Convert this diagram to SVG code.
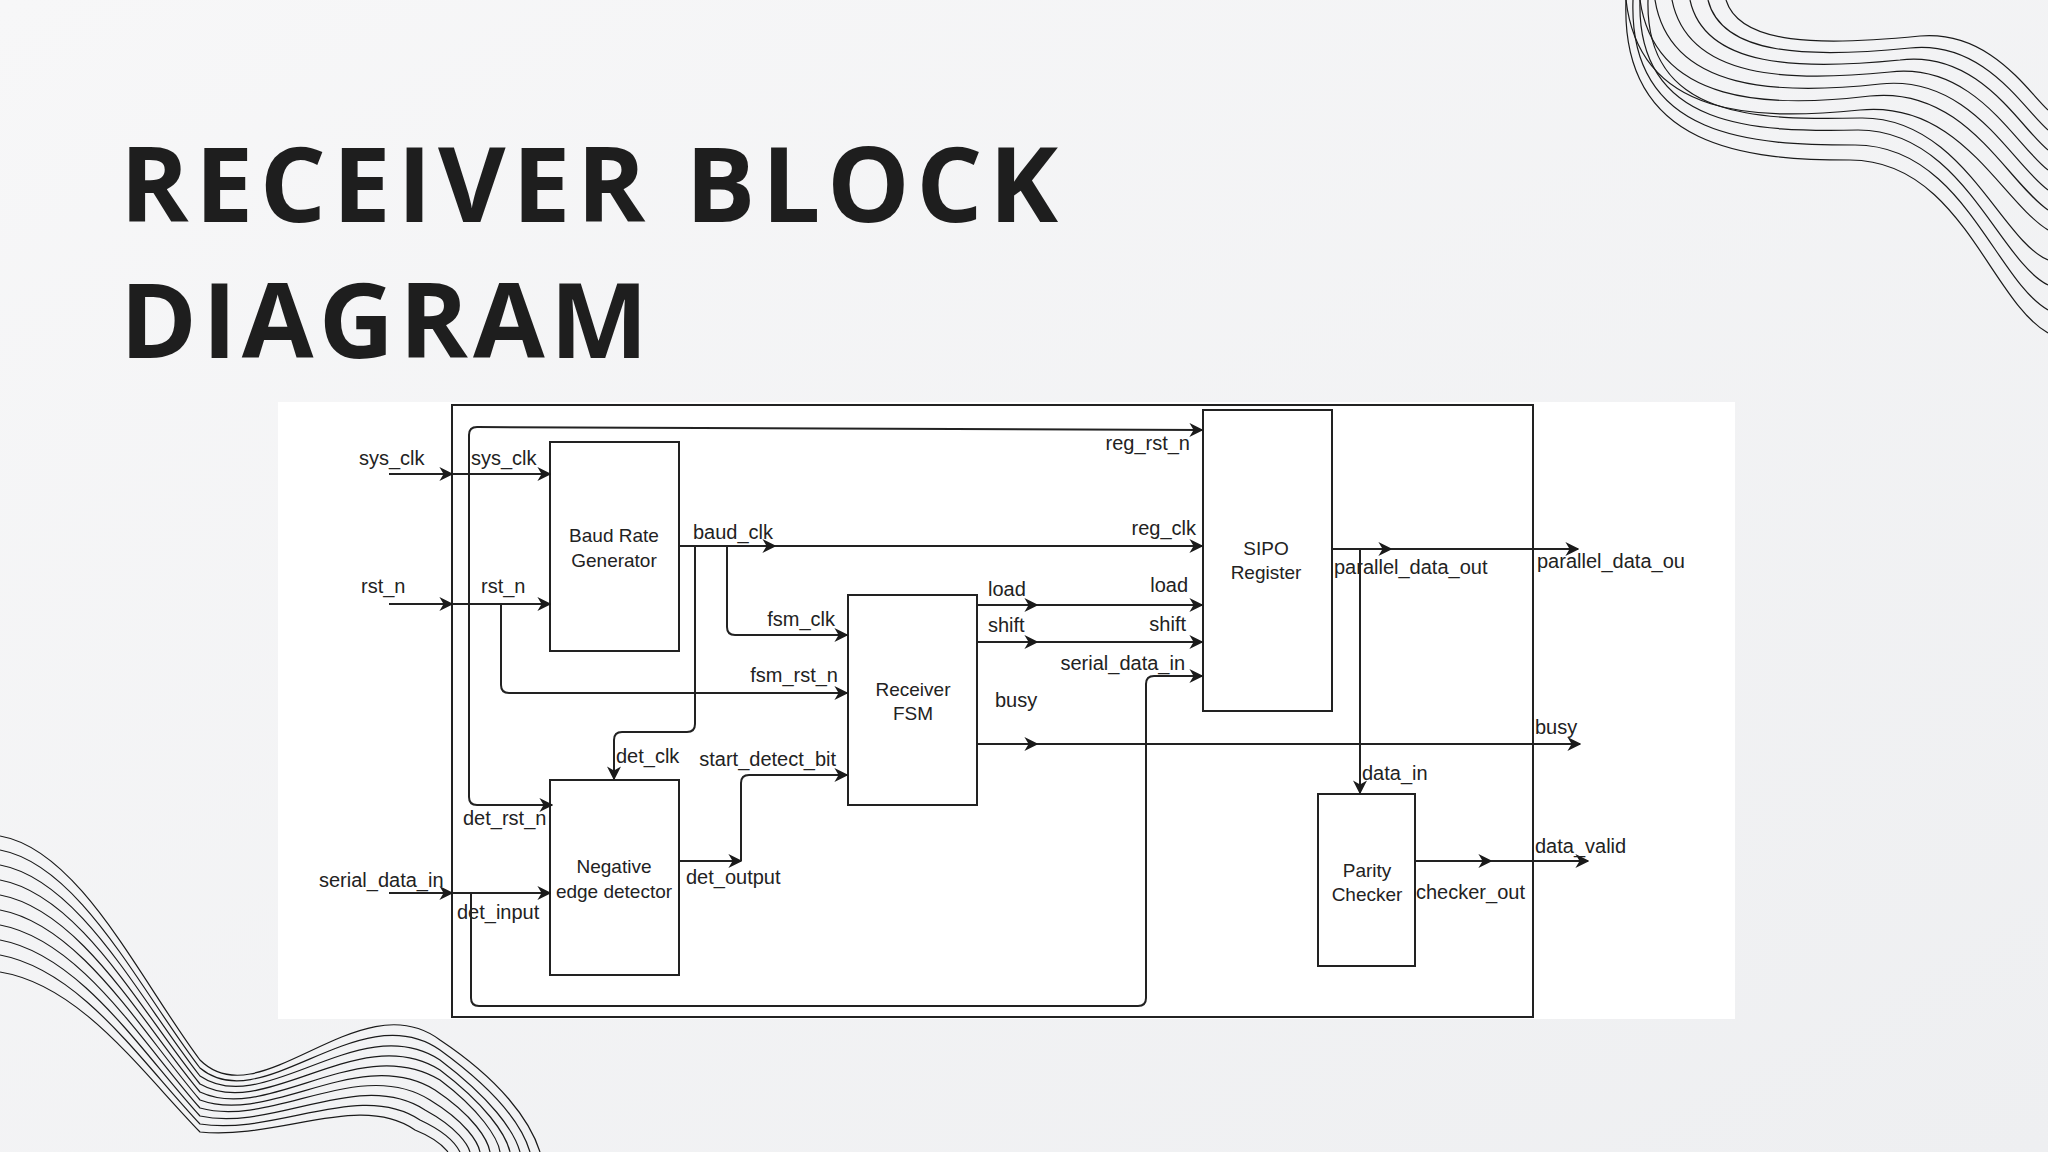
<svg xmlns="http://www.w3.org/2000/svg" width="2048" height="1152" viewBox="0 0 2048 1152">
<defs>
<linearGradient id="bg" x1="0" y1="0" x2="1" y2="1"><stop offset="0" stop-color="#f7f7f8"/><stop offset="1" stop-color="#eeeff1"/></linearGradient>
<marker id="ar" markerUnits="userSpaceOnUse" markerWidth="14" markerHeight="14" viewBox="0 0 10 10" refX="9" refY="5" orient="auto"><path d="M0,0 L10,5 L0,10 L3,5 z" fill="#1a1a1a"/></marker>
</defs>
<style>
.blk{fill:#fff;stroke:#222;stroke-width:2}
.c{fill:none;stroke:#222;stroke-width:2;marker-end:url(#ar)}
.lb{font-family:"Liberation Sans",Arial,sans-serif;font-size:20px;fill:#222}
.bt{font-family:"Liberation Sans",Arial,sans-serif;font-size:19px;fill:#222;text-anchor:middle}
.w{fill:none;stroke:#1a1a1a;stroke-width:1.2}
.t{font-family:"Open Sans","Noto Sans",sans-serif;font-weight:700;font-size:104px;fill:#1e1e1e}
</style>
<rect width="2048" height="1152" fill="url(#bg)"/>
<g id="waves-tr">
<path class="w" d="M1626,0 C1640,120 1760,120 1860,110 C1960,100 2000,200 2048,230"/>
<path class="w" d="M1640,0 C1655,105 1770,108 1870,96 C1965,86 2005,180 2048,210"/>
<path class="w" d="M1655,0 C1670,92 1780,95 1880,84 C1970,74 2010,162 2048,190"/>
<path class="w" d="M1672,0 C1688,80 1790,82 1890,72 C1975,62 2015,145 2048,170"/>
<path class="w" d="M1690,0 C1705,68 1800,70 1900,60 C1980,50 2020,128 2048,150"/>
<path class="w" d="M1708,0 C1722,56 1810,58 1910,48 C1985,40 2024,110 2048,130"/>
<path class="w" d="M1726,0 C1740,45 1820,46 1920,36 C1990,30 2028,92 2048,110"/>
<path class="w" d="M1626,0 C1620,150 1750,160 1850,160 C1960,160 1990,300 2048,333"/>
<path class="w" d="M1633,0 C1628,140 1755,145 1855,145 C1962,145 1995,280 2048,310"/>
<path class="w" d="M1640,0 C1636,130 1758,132 1858,130 C1962,130 1998,260 2048,285"/>
<path class="w" d="M1648,0 C1645,120 1760,120 1860,118 C1962,116 2000,240 2048,260"/>
</g>
<g id="waves-bl">
<path class="w" d="M0,836 C80,850 140,980 200,1060 C260,1120 360,980 440,1040 C500,1080 530,1120 540,1152"/>
<path class="w" d="M0,850 C80,865 140,990 200,1068 C262,1120 360,994 440,1050 C495,1090 522,1125 530,1152"/>
<path class="w" d="M0,865 C80,880 140,1000 200,1076 C264,1120 360,1008 440,1060 C490,1098 514,1130 520,1152"/>
<path class="w" d="M0,880 C80,895 140,1010 200,1084 C266,1122 360,1020 440,1070 C485,1104 506,1134 510,1152"/>
<path class="w" d="M0,895 C80,910 140,1020 200,1092 C268,1124 360,1032 440,1080 C480,1110 498,1138 500,1152"/>
<path class="w" d="M0,910 C80,925 140,1030 200,1100 C270,1126 360,1044 435,1090 C474,1116 488,1140 490,1152"/>
<path class="w" d="M0,925 C80,940 140,1040 200,1108 C272,1128 360,1056 430,1100 C466,1122 478,1142 480,1152"/>
<path class="w" d="M0,940 C80,955 140,1050 200,1116 C274,1132 360,1068 425,1110 C458,1128 468,1145 470,1152"/>
<path class="w" d="M0,955 C80,970 140,1060 200,1124 C276,1136 360,1080 420,1120 C450,1134 458,1148 460,1152"/>
<path class="w" d="M0,972 C80,985 140,1070 200,1132 C278,1140 360,1092 415,1130 C440,1140 446,1150 448,1152"/>
</g>
<text class="t" x="120" y="222" textLength="938" lengthAdjust="spacing">RECEIVER BLOCK</text>
<text class="t" x="120" y="358" textLength="528" lengthAdjust="spacing">DIAGRAM</text>
<rect x="278" y="402" width="1457" height="617" fill="#fff"/>
<rect x="452" y="405" width="1081" height="612" fill="none" stroke="#222" stroke-width="2"/>
<g id="baud"><rect class="blk" x="550" y="442" width="129" height="209"/><text class="bt" x="614" y="542">Baud Rate</text><text class="bt" x="614" y="567">Generator</text></g>
<g id="fsm"><rect class="blk" x="848" y="595" width="129" height="210"/><text class="bt" x="913" y="696">Receiver</text><text class="bt" x="913" y="720">FSM</text></g>
<g id="neg"><rect class="blk" x="550" y="780" width="129" height="195"/><text class="bt" x="614" y="873">Negative</text><text class="bt" x="614" y="898">edge detector</text></g>
<g id="sipo"><rect class="blk" x="1203" y="410" width="129" height="301"/><text class="bt" x="1266" y="555">SIPO</text><text class="bt" x="1266" y="579">Register</text></g>
<g id="parity"><rect class="blk" x="1318" y="794" width="97" height="172"/><text class="bt" x="1367" y="877">Parity</text><text class="bt" x="1367" y="901">Checker</text></g>
<g id="connectors">
<path class="c" d="M389,474 L452,474"/><path class="c" d="M452,474 L550,474"/>
<path class="c" d="M389,604 L452,604"/><path class="c" d="M452,604 L550,604"/>
<path class="c" d="M389,893 L452,893"/><path class="c" d="M452,893 L550,893"/>
<path class="c" d="M679,546 L775,546"/><path class="c" d="M775,546 L1202,546"/>
<path class="c" d="M727,546 L727,627 Q727,635 735,635 L847,635"/>
<path class="c" d="M695,546 L695,724 Q695,732 687,732 L622,732 Q614,732 614,740 L614,779"/>
<path class="c" d="M501,604 L501,685 Q501,693 509,693 L847,693"/>
<path class="c" d="M469,604 L469,435 Q469,427 477,427 L1202,430"/>
<path class="c" d="M469,604 L469,797 Q469,805 477,805 L552,805"/>
<path class="c" d="M471,893 L471,998 Q471,1006 479,1006 L1138,1006 Q1146,1006 1146,998 L1146,684 Q1146,676 1154,676 L1202,676"/>
<path class="c" d="M679,861 L741,861"/><path class="c" d="M741,861 L741,783 Q741,775 749,775 L847,775"/>
<path class="c" d="M977,605 L1037,605"/><path class="c" d="M1037,605 L1202,605"/>
<path class="c" d="M977,642 L1037,642"/><path class="c" d="M1037,642 L1202,642"/>
<path class="c" d="M977,744 L1037,744"/><path class="c" d="M1037,744 L1580,744"/>
<path class="c" d="M1332,549 L1391,549"/><path class="c" d="M1391,549 L1578,549"/>
<path class="c" d="M1360,549 L1360,793"/>
<path class="c" d="M1415,861 L1491,861"/><path class="c" d="M1491,861 L1588,861"/>
</g>
<g id="labels">
<text class="lb" x="359" y="465">sys_clk</text>
<text class="lb" x="471" y="465">sys_clk</text>
<text class="lb" x="361" y="593">rst_n</text>
<text class="lb" x="481" y="593">rst_n</text>
<text class="lb" x="693" y="539">baud_clk</text>
<text class="lb" x="835" y="626" text-anchor="end">fsm_clk</text>
<text class="lb" x="838" y="682" text-anchor="end">fsm_rst_n</text>
<text class="lb" x="616" y="763">det_clk</text>
<text class="lb" x="836" y="766" text-anchor="end">start_detect_bit</text>
<text class="lb" x="463" y="825">det_rst_n</text>
<text class="lb" x="319" y="887">serial_data_in</text>
<text class="lb" x="457" y="919">det_input</text>
<text class="lb" x="686" y="884">det_output</text>
<text class="lb" x="988" y="596">load</text>
<text class="lb" x="988" y="632">shift</text>
<text class="lb" x="995" y="707">busy</text>
<text class="lb" x="1190" y="450" text-anchor="end">reg_rst_n</text>
<text class="lb" x="1196" y="535" text-anchor="end">reg_clk</text>
<text class="lb" x="1188" y="592" text-anchor="end">load</text>
<text class="lb" x="1186" y="631" text-anchor="end">shift</text>
<text class="lb" x="1185" y="670" text-anchor="end">serial_data_in</text>
<text class="lb" x="1334" y="574">parallel_data_out</text>
<text class="lb" x="1537" y="568">parallel_data_ou</text>
<text class="lb" x="1535" y="734">busy</text>
<text class="lb" x="1362" y="780">data_in</text>
<text class="lb" x="1535" y="853">data_valid</text>
<text class="lb" x="1416" y="899">checker_out</text>
</g>
</svg>
